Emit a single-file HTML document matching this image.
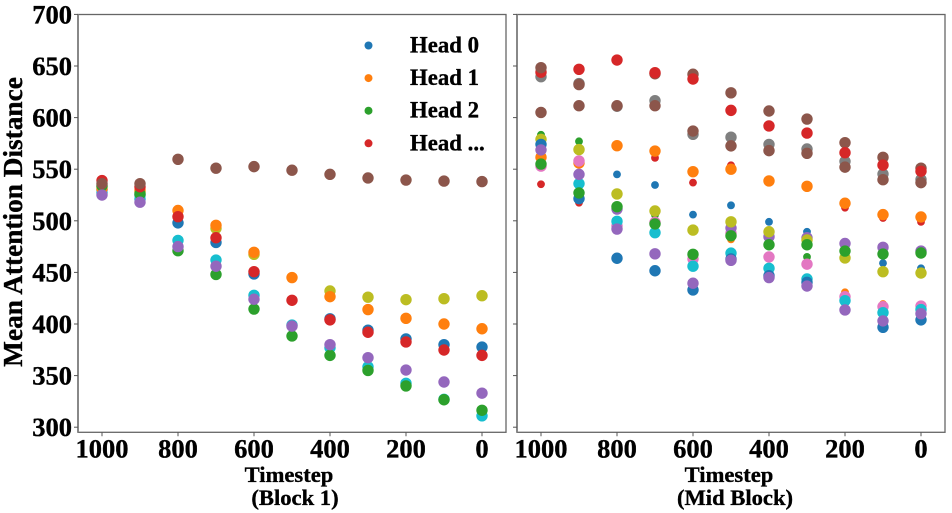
<!DOCTYPE html>
<html lang="en">
<head>
<meta charset="utf-8">
<title>Mean Attention Distance by Timestep</title>
<style>
html,body{margin:0;padding:0;background:#fff;}
body{width:952px;height:513px;overflow:hidden;}
svg{display:block;filter:blur(0.35px);}
text{font-family:"Liberation Serif",serif;font-weight:bold;fill:#000;stroke:#000;stroke-width:0.35px;}
</style>
</head>
<body>
<svg id="chart" width="952" height="513" viewBox="0 0 952 513" xmlns="http://www.w3.org/2000/svg"></svg>
<script>
// ---------- Chart data ----------
const timesteps = [1000, 900, 800, 700, 600, 500, 400, 300, 200, 100, 0];
const xTickLabels = [1000, 800, 600, 400, 200, 0];
const yTickLabels = [300, 350, 400, 450, 500, 550, 600, 650, 700];
const legendLabels = ['Head 0', 'Head 1', 'Head 2', 'Head ...'];

// Block 1 series (timestep order 1000 -> 0)
const b1Blue   = [530, 525, 498, 479, 448.5, null, 405, 394, 385.5, 380, 377.7];
const b1Olive  = [533, 528, null, 492.7, 467.5, null, 432, 426, 423.6, 424.5, 427.4];
const b1Cyan   = [527, 521, 481, 462, 427.8, 399, 377, 358.6, 342.5, 327, 311];
const b1Orange = [531, 530, 510, 495.6, 469.5, 445, 426.5, 414, 405.5, 400, 395.4];
const b1Green  = [534, 526, 471, 448, 414.5, 388.4, 369.6, 355, 340, 326.6, 316.4];
const b1Red    = [539, 533, 504, 483.6, 450.7, 423, 404, 392, 382.6, 374.8, 369.6];
const b1Purple = [525, 518, 475, 456, 424, 398, 380, 367.4, 355.4, 343.8, 333];
const b1Brown  = [536, 536, 559.6, 551, 552.5, 549, 545, 541.5, 539.5, 538.5, 538];

// Mid Block series (timestep order 1000 -> 0)
const midBlueSmall   = [null, null, 545, 534.7, 506, 515, 499, 489.4, null, 459, 454];
const midRedSmall    = [535.4, 517.5, null, 561, 537, 553.8, null, null, 512.7, 502.7, 499];
const midOrangeSmall = [null, null, null, null, null, 482, null, null, 430.7, 419.4, null];
const midGreenSmall  = [583.4, 577, null, 505.6, null, null, null, 465, null, null, null];
const midGray        = [639.6, 633, 611, 616.4, 583.8, 581, 574, 569.6, 557.6, 545.3, 540];
const midBrownUpper  = [605, 611.5, null, 642.5, 642, 624, 606.4, 598.6, 575.7, 561.5, 551];
const midRed         = [644, 646.8, 655.8, 643.5, 637.4, 607, 591.9, 585, 566, 554, 548];
const midBrownLower  = [648.4, 632, 611.5, 611.5, 587, 572.6, 568, 565.4, 552, 539.8, 537];
const midOrange      = [561.5, 556, 572.8, 567.6, 547.6, 550, 538.6, 533.4, 517, 506, 503.7];
const midPink        = [553, 558, 495, 498.5, 463, 488, 465, 458, 426.5, 416.8, 417.4];
const midCyan        = [null, 536, 499.5, 488.5, 456, 468.7, 454, 443.6, 422.6, 411, 414];
const midPurpleUpper = [null, null, 511.4, null, null, 493, 484.6, 483.6, 478, 474.3, 470.7];
const midOlive       = [579, 569, 526, 509.5, 491, 499, 489.4, 481.4, 464, 450.7, 449.4];
const midBlue        = [574, 521.5, 463.7, 451.6, 433, 463, 446.8, 440.4, null, 396.8, 404];
const midPurpleLower = [568.7, 545, 492, 468, 439.5, 461.7, 445, 436.8, 413.6, 403, 410];
const midGreen       = [555, 527, 513.7, 497, 467.5, 485.5, 476.8, 476.8, 470.7, 467.8, 468.8];

// ---------- Drawing ----------
const NS = 'http://www.w3.org/2000/svg';
const svg = document.getElementById('chart');
const C = {blue:'#1f77b4',orange:'#ff7f0e',green:'#2ca02c',red:'#d62728',purple:'#9467bd',brown:'#8c564b',pink:'#e377c2',gray:'#7f7f7f',olive:'#bcbd22',cyan:'#17becf'};

function make(tag, attrs, parent, txt){
  const el = document.createElementNS(NS, tag);
  for (const k in attrs) el.setAttribute(k, attrs[k]);
  if (txt !== undefined) el.textContent = txt;
  (parent || svg).appendChild(el);
  return el;
}
function yScale(v){ return 427.2 - (v - 300) * 1.032; }
function xScale(panelLeft, t){ return panelLeft + 24 + (1000 - t) * 0.38; }

function drawAxes(panelLeft, name, showY){
  const g = make('g', {}, svg);
  
  
  const w = 428, top = 14.5, bottom = 432.3;
  const frame = make('rect', {x:panelLeft, y:top, width:w, height:bottom-top, fill:'#fff', stroke:'#666', 'stroke-width':1.3}, g);
  
  
  const leftSpine = make('line', {x1:panelLeft, x2:panelLeft, y1:top, y2:bottom, stroke:'#888', 'stroke-width':2}, g);
  
  
  xTickLabels.forEach(function(t){
    const x = xScale(panelLeft, t);
    const tick = make('line', {x1:x, x2:x, y1:bottom, y2:bottom+4, stroke:'#555', 'stroke-width':1}, g);
    
    
    const label = make('text', {x:x, y:457.5, 'text-anchor':'middle', 'font-size':26.5}, g, String(t));
    
    
  });
  yTickLabels.forEach(function(v){
    const y = yScale(v);
    const tick = make('line', {x1:panelLeft-4, x2:panelLeft, y1:y, y2:y, stroke:'#555', 'stroke-width':1}, g);
    
    
    if (showY){
      const label = make('text', {x:72, y:y+9, 'text-anchor':'end', 'font-size':26.5}, g, String(v));
      
      
    }
  });
}

function drawSeries(panelLeft, panelName, seriesName, values, color, r){
  const g = make('g', {}, svg);
  
  
  values.forEach(function(v, i){
    if (v === null) return;
    const c = make('circle', {cx:xScale(panelLeft, timesteps[i]), cy:yScale(v), r:r, fill:color}, g);
    
    
  });
}

const L1 = 78, L2 = 517, R = 5.7, S = 3.9;
drawAxes(L1, 'block-1', true);
drawAxes(L2, 'mid-block', false);

drawSeries(L1, 'block-1', 'blue', b1Blue, C.blue, R);
drawSeries(L1, 'block-1', 'olive', b1Olive, C.olive, R);
drawSeries(L1, 'block-1', 'cyan', b1Cyan, C.cyan, R);
drawSeries(L1, 'block-1', 'orange', b1Orange, C.orange, R);
drawSeries(L1, 'block-1', 'green', b1Green, C.green, R);
drawSeries(L1, 'block-1', 'red', b1Red, C.red, R);
drawSeries(L1, 'block-1', 'purple', b1Purple, C.purple, R);
drawSeries(L1, 'block-1', 'brown', b1Brown, C.brown, R);

drawSeries(L2, 'mid-block', 'blue-small', midBlueSmall, C.blue, S);
drawSeries(L2, 'mid-block', 'red-small', midRedSmall, C.red, S);
drawSeries(L2, 'mid-block', 'orange-small', midOrangeSmall, C.orange, S);
drawSeries(L2, 'mid-block', 'green-small', midGreenSmall, C.green, S);
drawSeries(L2, 'mid-block', 'gray', midGray, C.gray, R);
drawSeries(L2, 'mid-block', 'brown-upper', midBrownUpper, C.brown, R);
drawSeries(L2, 'mid-block', 'red', midRed, C.red, R);
drawSeries(L2, 'mid-block', 'brown-lower', midBrownLower, C.brown, R);
drawSeries(L2, 'mid-block', 'orange', midOrange, C.orange, R);
drawSeries(L2, 'mid-block', 'pink', midPink, C.pink, R);
drawSeries(L2, 'mid-block', 'cyan', midCyan, C.cyan, R);
drawSeries(L2, 'mid-block', 'purple-upper', midPurpleUpper, C.purple, R);
drawSeries(L2, 'mid-block', 'olive', midOlive, C.olive, R);
drawSeries(L2, 'mid-block', 'blue', midBlue, C.blue, R);
drawSeries(L2, 'mid-block', 'purple-lower', midPurpleLower, C.purple, R);
drawSeries(L2, 'mid-block', 'green', midGreen, C.green, R);

// Legend
const legendColors = [C.blue, C.orange, C.green, C.red];
const legend = make('g', {}, svg);


legendLabels.forEach(function(label, i){
  const y = 45.5 + i * 32.6;
  const dot = make('circle', {cx:368.5, cy:y, r:4, fill:legendColors[i]}, legend);
  
  
  const t = make('text', {x:410, y:y+7, 'font-size':22.8}, legend, label);
  
  
});

// Axis titles
const yTitle = make('text', {x:0, y:0, transform:'translate(22 222) rotate(-90)', 'text-anchor':'middle', 'font-size':27.3}, svg, 'Mean Attention Distance');



const t1a = make('text', {x:289, y:482, 'text-anchor':'middle', 'font-size':22.6}, svg, 'Timestep');


const t1b = make('text', {x:295, y:505, 'text-anchor':'middle', 'font-size':22.6}, svg, '(Block 1)');


const t2a = make('text', {x:729, y:482, 'text-anchor':'middle', 'font-size':22.6}, svg, 'Timestep');


const t2b = make('text', {x:735, y:505, 'text-anchor':'middle', 'font-size':22.6}, svg, '(Mid Block)');


</script>
</body>
</html>
